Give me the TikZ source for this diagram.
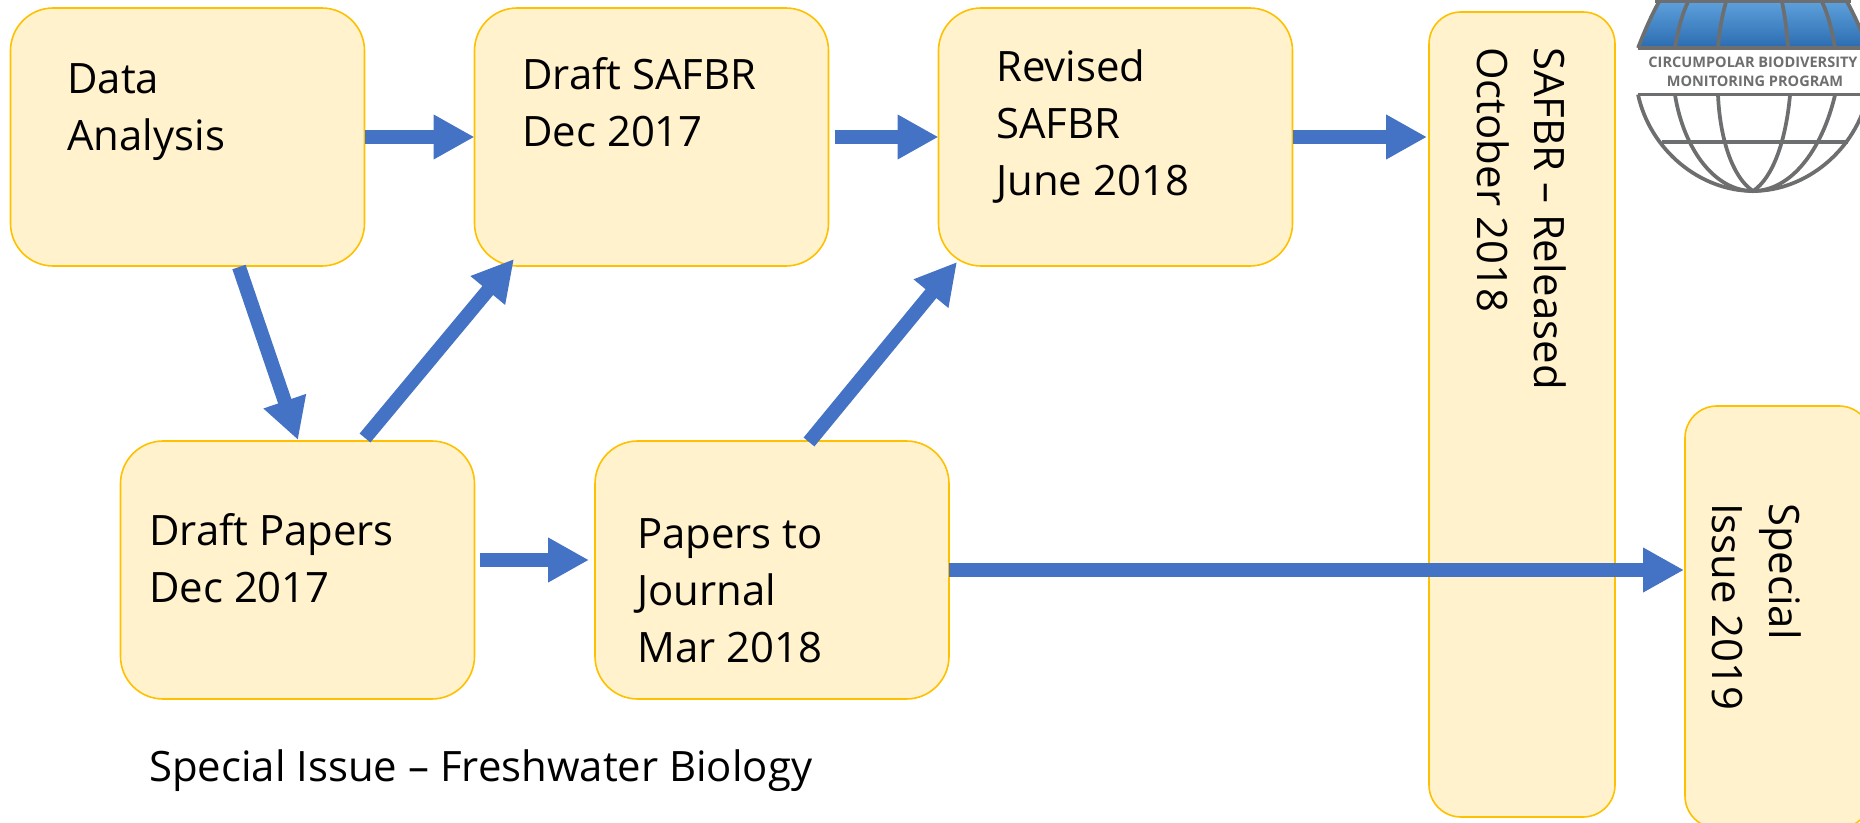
\documentclass[tikz,border=0pt]{standalone}
\usepackage{fontspec}
\setmainfont{Open Sans}
\usetikzlibrary{arrows.meta}
\definecolor{boxfill}{HTML}{FFF2CC}
\definecolor{boxline}{HTML}{FFC000}
\definecolor{arrowblue}{HTML}{4472C4}
\definecolor{logogray}{HTML}{6D6E70}
\definecolor{logotop}{HTML}{5FA2DD}
\definecolor{logobot}{HTML}{2B6CB0}
\tikzset{
  flowbox/.style={draw=boxline,fill=boxfill,line width=1.2pt,rounded corners=32pt,inner sep=0pt,outer sep=0pt,minimum width=265.5pt,minimum height=193.5pt},
  tallbox/.style={draw=boxline,fill=boxfill,line width=1.2pt,rounded corners=24pt,inner sep=0pt,outer sep=0pt,minimum width=139.5pt},
  boxtext/.style={anchor=west,align=left,inner sep=0pt,font=\fontsize{31.4pt}{42.75pt}\selectfont},
  vtext/.style={rotate=-90,anchor=west,align=left,inner sep=0pt,font=\fontsize{31.4pt}{42.75pt}\selectfont},
  flowarrow/.style={draw=arrowblue,line width=10.5pt,-{Triangle[length=30.75pt,width=31.5pt,fill=arrowblue]}},
  logoline/.style={draw=logogray,line width=2.8pt},
  logotext/.style={text=logogray,inner sep=0pt,font=\bfseries\fontsize{10.9pt}{14pt}\selectfont}
}
\begin{document}
\begin{tikzpicture}[x=0.75pt,y=-0.75pt]
\useasboundingbox (0,0) rectangle (1860,823);
\clip (0,0) rectangle (1860,823);
% boxes
\node[flowbox] (data) at (187.5,137) {};
\node[flowbox] (safbr) at (651.5,137) {};
\node[flowbox] (revised) at (1115.5,137) {};
\node[flowbox] (dpapers) at (297.5,570) {};
\node[flowbox] (jpapers) at (772,570) {};
\node[tallbox,minimum height=603.75pt] (released) at (1522,414.5) {};
\node[tallbox,minimum height=316.5pt] (special) at (1778,617) {};
% texts
\node[boxtext] (tdata) at (67,112) {Data\\Analysis};
\node[boxtext] (tsafbr) at (522,102) {Draft SAFBR\\Dec 2017};
\node[boxtext] (trevised) at (996,127) {Revised\\SAFBR\\June 2018};
\node[boxtext] (tdpapers) at (149,558) {Draft Papers\\Dec 2017};
\node[boxtext] (tjpapers) at (637,591) {Papers to\\Journal\\Mar 2018};
\node[boxtext] (tissue) at (149,771) {Special Issue – Freshwater Biology};
\node[vtext] (treleased) at (1522,47) {SAFBR – Released\\October 2018};
\node[vtext] (tspecial) at (1757,503) {Special\\Issue 2019};
% connectors
\draw[flowarrow] (data.east) -- (safbr.west);
\draw[flowarrow] ([shift={(6,0)}]safbr.east) -- (revised.west);
\draw[flowarrow] (revised.east) -- ([shift={(-2,0)}]released.west |- revised.west);
\draw[flowarrow] ([shift={(51.5,1)}]data.south) -- ([shift={(0.5,-1)}]dpapers.north);
\draw[flowarrow] ([shift={(67.5,-3)}]dpapers.north) -- ([shift={(-137.5,-7)}]safbr.south);
\draw[flowarrow] ([shift={(37,1)}]jpapers.north) -- ([shift={(-158.5,-4)}]revised.south);
\draw[flowarrow] ([shift={(5,-10)}]dpapers.east) -- ([shift={(-6,-10)}]jpapers.west);
\draw[flowarrow] (jpapers.east) -- ([shift={(-1,-47)}]special.west);
% logo
\shade[top color=logotop,bottom color=logobot] (1638,48) .. controls (1645,30) and (1652,14) .. (1660,0) -- (1846,0) .. controls (1854,14) and (1861,30) .. (1868,48) -- cycle;
\draw[logoline] (1638,48) .. controls (1645,30) and (1652,14) .. (1660,0);
\draw[logoline] (1846,0) .. controls (1854,14) and (1861,30) .. (1868,48);
\draw[logoline] (1638,48) -- (1868,48);
\draw[logoline] (1655,1.5) -- (1851,1.5);
\draw[logoline] (1675,48) .. controls (1678,30) and (1682,14) .. (1688,2);
\draw[logoline] (1718,48) .. controls (1719,32) and (1722,16) .. (1726,2);
\draw[logoline] (1788,48) .. controls (1787,32) and (1785,16) .. (1782,2);
\draw[logoline] (1835,48) .. controls (1832,30) and (1828,14) .. (1822,2);
\node[logotext] (logoa) at (1753,62) {CIRCUMPOLAR BIODIVERSITY};
\node[logotext] (logob) at (1755,81) {MONITORING PROGRAM};
\draw[logoline] (1638,94.5) -- (1868,94.5);
\draw[logoline] (1662,142) -- (1848,142);
\draw[logoline] (1638,94.5) .. controls (1650,150) and (1700,191) .. (1753,191) .. controls (1806,191) and (1856,150) .. (1868,94.5);
\draw[logoline] (1675,95) .. controls (1684,150) and (1715,191) .. (1753,191) .. controls (1791,191) and (1822,150) .. (1835,95);
\draw[logoline] (1718,95) .. controls (1720,140) and (1733,178) .. (1753,191) .. controls (1773,178) and (1786,140) .. (1790,95);
\end{tikzpicture}
\end{document}
